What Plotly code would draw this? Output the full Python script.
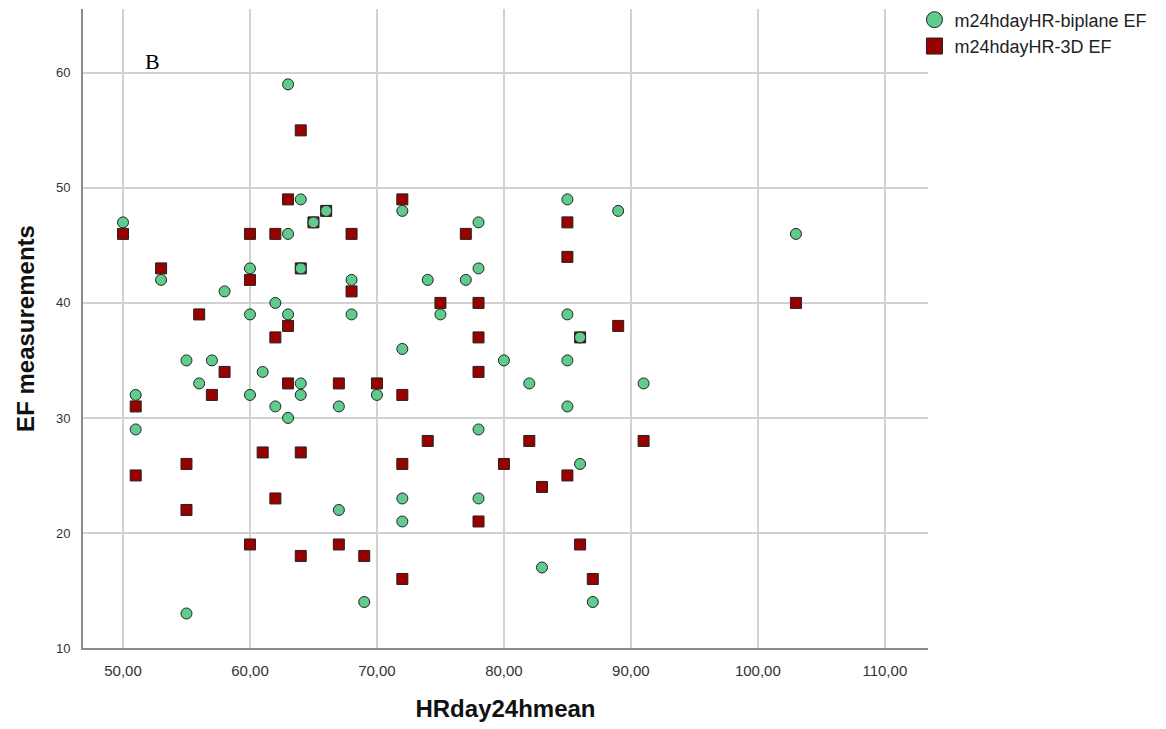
import plotly.graph_objects as go

# Mean daytime heart rate (x) against EF by method (y)
hr_biplane = [50, 51, 51, 53, 55, 55, 56, 57, 58, 60, 60, 60, 61, 62, 62, 63, 63, 63, 63,
              64, 64, 64, 64, 65, 66, 67, 67, 68, 68, 69, 70, 72, 72, 72, 72, 74, 75, 77,
              78, 78, 78, 78, 80, 82, 83, 85, 85, 85, 85, 86, 86, 87, 89, 91, 103]
ef_biplane = [47, 32, 29, 42, 35, 13, 33, 35, 41, 43, 39, 32, 34, 40, 31, 59, 46, 39, 30,
              49, 43, 33, 32, 47, 48, 31, 22, 42, 39, 14, 32, 48, 36, 23, 21, 42, 39, 42,
              47, 43, 29, 23, 35, 33, 17, 49, 39, 35, 31, 37, 26, 14, 48, 33, 46]

hr_3d = [50, 51, 51, 53, 55, 55, 56, 57, 58, 60, 60, 60, 61, 62, 62, 62, 63, 63, 63,
         64, 64, 64, 64, 65, 66, 67, 67, 68, 68, 69, 70, 72, 72, 72, 72, 74, 75, 77,
         78, 78, 78, 78, 80, 82, 83, 85, 85, 85, 86, 86, 87, 89, 91, 103]
ef_3d = [46, 31, 25, 43, 26, 22, 39, 32, 34, 46, 42, 19, 27, 46, 37, 23, 49, 38, 33,
         55, 43, 27, 18, 47, 48, 33, 19, 46, 41, 18, 33, 49, 32, 26, 16, 28, 40, 46,
         40, 37, 34, 21, 26, 28, 24, 47, 44, 25, 37, 19, 16, 38, 28, 40]

x_ticks = [50, 60, 70, 80, 90, 100, 110]
x_tick_labels = ["50,00", "60,00", "70,00", "80,00", "90,00", "100,00", "110,00"]
y_ticks = [10, 20, 30, 40, 50, 60]

GREEN = "#5fcb8c"
RED = "#990000"
EDGE = "#222222"

fig = go.Figure()

# 3D markers first so the biplane circles sit on top
fig.add_trace(go.Scatter(
    x=hr_3d, y=ef_3d, mode="markers", name="m24hdayHR-3D EF",
    marker=dict(symbol="square", size=11, color=RED, line=dict(color=EDGE, width=1)),
    showlegend=False,
))
fig.add_trace(go.Scatter(
    x=hr_biplane, y=ef_biplane, mode="markers", name="m24hdayHR-biplane EF",
    marker=dict(symbol="circle", size=11, color=GREEN, line=dict(color=EDGE, width=1)),
    showlegend=False,
))

# Legend entries with larger symbols
fig.add_trace(go.Scatter(
    x=[None], y=[None], mode="markers", name="m24hdayHR-biplane EF",
    marker=dict(symbol="circle", size=16, color=GREEN, line=dict(color=EDGE, width=1)),
    legendrank=1,
))
fig.add_trace(go.Scatter(
    x=[None], y=[None], mode="markers", name="m24hdayHR-3D EF",
    marker=dict(symbol="square", size=16, color=RED, line=dict(color=EDGE, width=1)),
    legendrank=2,
))

fig.add_annotation(
    text="B", xref="x", yref="y", x=52.3, y=61, showarrow=False,
    font=dict(family="Liberation Serif", size=22, color="black"),
    xanchor="center", yanchor="middle",
)

fig.update_layout(
    width=1166, height=729,
    margin=dict(l=83, r=238, t=9, b=81, autoexpand=False),
    paper_bgcolor="white", plot_bgcolor="white",
    font=dict(family="Liberation Sans, Arial, sans-serif", color="#222222"),
    legend=dict(
        x=0.984, y=0.998, yref="container", xanchor="left", yanchor="top",
        font=dict(size=18, color="#222222"),
        bgcolor="rgba(0,0,0,0)", itemsizing="trace",
        tracegroupgap=0,
    ),
    xaxis=dict(
        range=[46.85, 113.4], tickmode="array", tickvals=x_ticks, ticktext=x_tick_labels,
        showgrid=True, gridcolor="#d2d2d2", gridwidth=1.5,
        showline=True, linecolor="#8a8a8a", linewidth=2,
        zeroline=False, ticks="", tickfont=dict(size=15, color="#333333"),
        ticklabelstandoff=8,
        title=dict(text="<b>HRday24hmean</b>", font=dict(size=24, color="#111111"), standoff=22),
    ),
    yaxis=dict(
        range=[10, 65.55], tickmode="array", tickvals=y_ticks,
        showgrid=True, gridcolor="#d2d2d2", gridwidth=1.5,
        showline=True, linecolor="#8a8a8a", linewidth=2,
        zeroline=False, ticks="", tickfont=dict(size=13, color="#333333"),
        ticklabelstandoff=8,
        title=dict(text="<b>EF measurements</b>", font=dict(size=24, color="#111111"), standoff=15),
    ),
)

fig.write_html("out.html")
